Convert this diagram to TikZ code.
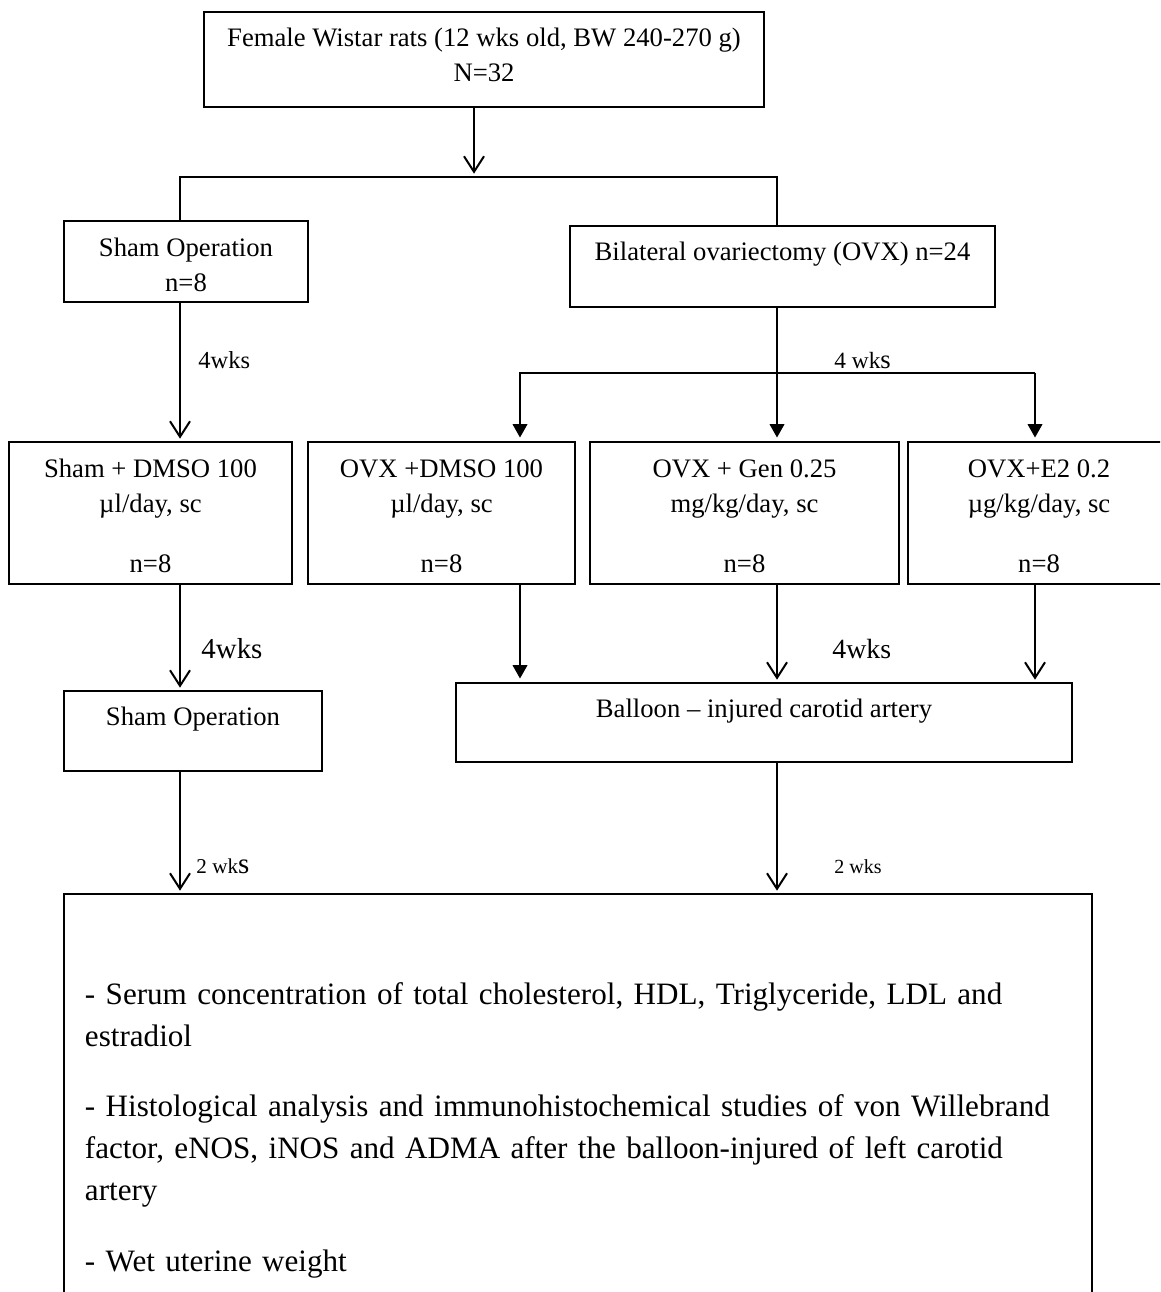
\documentclass[tikz,border=0pt]{standalone}
\usepackage{fontspec}
\setmainfont{Liberation Serif}
\usetikzlibrary{arrows.meta}

\tikzset{
  flowbox/.style={draw, line width=0.9pt, anchor=north, align=center,
    inner sep=0pt, outer sep=0pt, font=\fontsize{12}{15.75}\selectfont},
  vee/.style={line width=0.9pt, -{Straight Barb[length=7pt,width=9pt]}, shorten >=1.5pt},
  tri/.style={line width=0.9pt, -{Triangle[length=6pt,width=6.5pt]}, shorten >=2pt},
  wk/.style={anchor=base west, inner sep=0pt}
}

\begin{document}
\begin{tikzpicture}[x=0.45pt, y=-0.45pt]
    \path[use as bounding box, clip] (0,0) rectangle (1160,1292);
    \fill[white] (0,0) rectangle (1160,1292);

    %draw boxes
    \node[flowbox, minimum width=252pt, text height=31.5pt, text depth=11.25pt] (rats) at (484,12)
        {Female Wistar rats (12 wks old, BW 240-270 g)\\N=32};
    \node[flowbox, minimum width=109.8pt, text height=31.95pt, text depth=4.5pt] (sham) at (186,221)
        {Sham Operation\\n=8};
    \node[flowbox, minimum width=191.25pt, text height=15.75pt, text depth=20.7pt] (ovx) at (782.5,226)
        {Bilateral ovariectomy (OVX) n=24};
    \node[flowbox, minimum width=127.35pt, text height=58.5pt, text depth=5.4pt] (shamdmso) at (150.5,442)
        {Sham + DMSO 100\\µl/day, sc\\[11.25pt]n=8};
    \node[flowbox, minimum width=120.15pt, text height=58.5pt, text depth=5.4pt] (ovxdmso) at (441.5,442)
        {OVX +DMSO 100\\µl/day, sc\\[11.25pt]n=8};
    \node[flowbox, minimum width=139.05pt, text height=58.5pt, text depth=5.4pt] (ovxgen) at (744.5,442)
        {OVX + Gen 0.25\\mg/kg/day, sc\\[11.25pt]n=8};
    \node[flowbox, minimum width=117.9pt, text height=58.5pt, text depth=5.4pt] (ovxe2) at (1039,442)
        {OVX+E2 0.2\\µg/kg/day, sc\\[11.25pt]n=8};
    \node[flowbox, minimum width=116.1pt, text height=15.3pt, text depth=20.7pt] (shamop) at (193,691)
        {Sham Operation};
    \node[flowbox, minimum width=277.2pt, text height=15.3pt, text depth=20.25pt] (balloon) at (764,683)
        {Balloon – injured carotid artery};
    \node[flowbox, align=left, text width=443.7pt, inner xsep=9.45pt, text height=49.5pt, text depth=138.6pt,
        font=\fontsize{14}{19}\selectfont] (results) at (578,894)
        {- Serum concentration of total cholesterol, HDL, Triglyceride, LDL and\\
         estradiol\\[12.6pt]
         - Histological analysis and immunohistochemical studies of von Willebrand\\
         factor, eNOS, iNOS and ADMA after the balloon-injured of left carotid\\
         artery\\[12.6pt]
         - Wet uterine weight};

    %draw columns and junctions
    \coordinate (xl) at (180,0);
    \coordinate (xe) at (520,0);
    \coordinate (xm) at (777,0);
    \coordinate (xg) at (1035,0);
    \coordinate (jtop) at (474,177);
    \coordinate (jmid) at (777,373);

    %draw connectors
    \draw[vee] (rats.south -| jtop) -- (jtop);
    \draw[line width=0.9pt] (sham.north -| xl) |- (jtop -| xm) -- (ovx.north -| xm);
    \draw[vee] (sham.south -| xl) -- (shamdmso.north -| xl);
    \draw[tri] (ovx.south -| xm) -- (ovxgen.north -| xm);
    \draw[tri] (jmid -| xg) -| (ovxdmso.north -| xe);
    \draw[tri] (jmid -| xg) -- (ovxe2.north -| xg);
    \draw[vee] (shamdmso.south -| xl) -- (shamop.north -| xl);
    \draw[tri] (ovxdmso.south -| xe) -- (balloon.north -| xe);
    \draw[vee] (ovxgen.south -| xm) -- (balloon.north -| xm);
    \draw[vee] (ovxe2.south -| xg) -- (balloon.north -| xg);
    \draw[vee] (shamop.south -| xl) -- (results.north -| xl);
    \draw[vee] (balloon.south -| xm) -- (results.north -| xm);

    %draw labels
    \node[wk, font=\fontsize{11}{11}\selectfont] (wka) at (198,369) {4wks};
    \node[wk, font=\fontsize{10.5}{10.5}\selectfont] (wkb) at (834,369) {4 wk{\fontsize{12}{12}\selectfont s}};
    \node[wk, font=\fontsize{13}{13}\selectfont] (wkc) at (201,658) {4wks};
    \node[wk, font=\fontsize{12.5}{12.5}\selectfont] (wkd) at (832,658) {4wks};
    \node[wk, font=\fontsize{9.5}{9.5}\selectfont] (wke) at (196,873) {2 wk{\fontsize{13}{13}\selectfont s}};
    \node[wk, font=\fontsize{9}{9}\selectfont] (wkf) at (834,873) {2 wks};
\end{tikzpicture}
\end{document}
